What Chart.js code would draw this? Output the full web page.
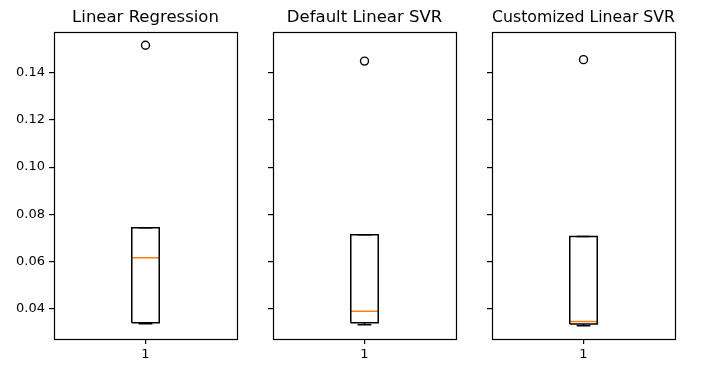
<!DOCTYPE html>
<html>
<head>
<meta charset="utf-8">
<script src="https://cdn.jsdelivr.net/npm/chart.js@4.4.0/dist/chart.umd.min.js"></script>
<style>
    html, body { margin: 0; padding: 0; background: #fff; }
    #wrap { position: relative; width: 706px; height: 375px; overflow: hidden; }
    #wrap canvas { position: absolute; top: 0; }
</style>
</head>
<body>
<div id="wrap">
    <canvas id="panel-0" width="245" height="375" style="left:0px"></canvas>
    <canvas id="panel-1" width="245" height="375" style="left:219px"></canvas>
    <canvas id="panel-2" width="245" height="375" style="left:438px"></canvas>
</div>
<script>
// Box plot data, one entry per model
const titles = ['Linear Regression', 'Default Linear SVR', 'Customized Linear SVR'];
const whiskerLow = [0.0337, 0.0332, 0.0328];
const q1 = [0.0341, 0.0341, 0.0336];
const medians = [0.0616, 0.0389, 0.0346];
const q3 = [0.0743, 0.0714, 0.0706];
const whiskerHigh = [0.0743, 0.0714, 0.0706];
const outliers = [0.1516, 0.1449, 0.1455];

const yTicks = [0.04, 0.06, 0.08, 0.10, 0.12, 0.14];
const xTicks = [1];
const yMin = 0.0272;
const yMax = 0.1573;

const boxHalf = 0.075;   // half of box width in x units
const capHalf = 0.0375;  // half of whisker cap width
const position = 1;

// Draws the full frame around the plot area (like matplotlib spines)
const framePlugin = {
    id: 'frame',
    afterDraw(chart) {
        const a = chart.chartArea;
        const ctx = chart.ctx;
        ctx.save();
        ctx.strokeStyle = '#000';
        ctx.lineWidth = 1.2;
        ctx.strokeRect(Math.round(a.left) + 0.5, Math.round(a.top) + 0.5,
            Math.round(a.right - a.left), Math.round(a.bottom - a.top));
        ctx.restore();
    }
};

function lineSet(points, color) {
    return {
        data: points,
        showLine: true,
        borderColor: color,
        borderWidth: 1.5,
        pointRadius: 0,
        fill: false,
        order: 2
    };
}

titles.forEach((title, i) => {
    const lo = whiskerLow[i], b1 = q1[i], med = medians[i], b3 = q3[i], hi = whiskerHigh[i];
    const datasets = [
        // box
        lineSet([
            { x: position - boxHalf, y: b1 }, { x: position + boxHalf, y: b1 },
            { x: position + boxHalf, y: b3 }, { x: position - boxHalf, y: b3 },
            { x: position - boxHalf, y: b1 }
        ], '#000'),
        // whiskers
        lineSet([{ x: position, y: b1 }, { x: position, y: lo }], '#000'),
        lineSet([{ x: position, y: b3 }, { x: position, y: hi }], '#000'),
        // caps
        lineSet([{ x: position - capHalf, y: lo }, { x: position + capHalf, y: lo }], '#000'),
        lineSet([{ x: position - capHalf, y: hi }, { x: position + capHalf, y: hi }], '#000'),
        // median
        lineSet([{ x: position - boxHalf, y: med }, { x: position + boxHalf, y: med }], '#ff7f0e'),
        // outlier
        {
            data: [{ x: position, y: outliers[i] }],
            showLine: false,
            pointRadius: 4,
            pointBorderWidth: 1.4,
            pointBorderColor: '#000',
            pointBackgroundColor: 'rgba(0,0,0,0)',
            order: 1
        }
    ];

    new Chart(document.getElementById('panel-' + i), {
        type: 'scatter',
        data: { datasets: datasets },
        plugins: [framePlugin],
        options: {
            responsive: false,
            animation: false,
            devicePixelRatio: 1,
            layout: { padding: { left: 0, right: 8, top: 0, bottom: 0 } },
            plugins: {
                legend: { display: false },
                tooltip: { enabled: false },
                title: {
                    display: true,
                    text: title,
                    fullSize: false,
                    color: '#000',
                    font: { family: 'DejaVu Sans', size: 16.5, weight: 'normal', lineHeight: 1.2 },
                    padding: { top: 8, bottom: 4 }
                }
            },
            scales: {
                x: {
                    type: 'linear',
                    min: 0.5,
                    max: 1.5,
                    afterBuildTicks: scale => { scale.ticks = xTicks.map(v => ({ value: v })); },
                    afterFit: scale => { scale.height = 36; },
                    border: { display: false },
                    grid: { drawOnChartArea: false, drawTicks: true, tickLength: 5, lineWidth: 1.2, color: '#000' },
                    ticks: {
                        color: '#000',
                        padding: 3,
                        font: { family: 'DejaVu Sans', size: 13 },
                        callback: v => String(v)
                    }
                },
                y: {
                    type: 'linear',
                    min: yMin,
                    max: yMax,
                    afterBuildTicks: scale => { scale.ticks = yTicks.map(v => ({ value: v })); },
                    afterFit: scale => { scale.width = 54; },
                    border: { display: false },
                    grid: { drawOnChartArea: false, drawTicks: true, tickLength: 5, lineWidth: 1.2, color: '#000' },
                    ticks: {
                        display: i === 0,
                        color: '#000',
                        padding: 4,
                        font: { family: 'DejaVu Sans', size: 13 },
                        callback: v => v.toFixed(2)
                    }
                }
            }
        }
    });
});
</script>
</body>
</html>
